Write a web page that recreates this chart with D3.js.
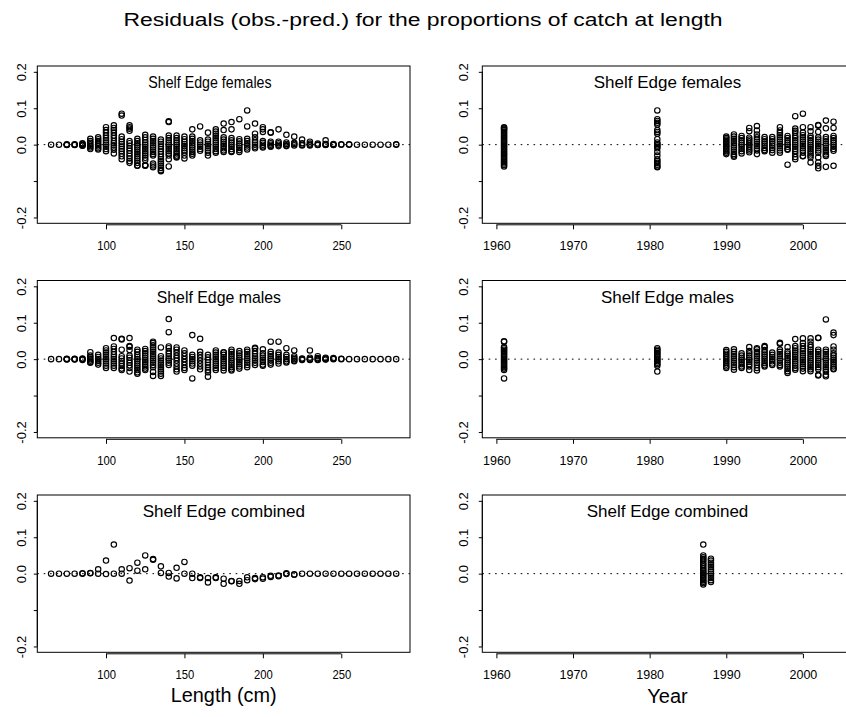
<!DOCTYPE html>
<html><head><meta charset="utf-8">
<script src="https://cdn.jsdelivr.net/npm/d3@7"></script>
<style>body{margin:0;background:#fff;overflow:hidden} svg{display:block} text{font-family:"Liberation Sans",Arial,Helvetica,sans-serif;fill:#000}</style>
</head><body>
<script>
// ---------------- DATA ----------------
const mainTitle = "Residuals (obs.-pred.) for the proportions of catch at length";
const panelTitles = ["Shelf Edge females", "Shelf Edge males", "Shelf Edge combined"];
const xLabels = ["Length (cm)", "Year"];
const lengthTicks = [100, 150, 200, 250];
const yearTicks = [1960, 1970, 1980, 1990, 2000];
const yTicks = [-0.2, -0.1, 0.0, 0.1, 0.2];
const yTickLabels = ["-0.2", "", "0.0", "0.1", "0.2"];

const lengthBins = [65,70,75,80,85,90,95,100,105,110,115,120,125,130,135,140,145,150,155,160,165,170,175,180,185,190,195,200,205,210,215,220,225,230,235,240,245,250,255,260,265,270,275,280,285];

const femByLength = [
 [0],[0],[0.001,0,-0.001],[0.001,0,-0.001],[0.004,0.002,0,-0.002,-0.003],
 [0.016,0.01,0.005,0,-0.004,-0.008,-0.012],
 [0.02,0.015,0.01,0.005,0,-0.005,-0.01,-0.013],
 [0.048,0.04,0.033,0.025,0.018,0.012,0.006,0,-0.006,-0.012,-0.018],
 [0.053,0.046,0.04,0.033,0.025,0.018,0.01,0.004,-0.002,-0.008,-0.014,-0.024],
 [0.085,0.08,0.022,0.015,0.008,0.002,-0.005,-0.012,-0.018,-0.025,-0.032,-0.04],
 [0.053,0.048,0.044,0.038,0.01,0.004,-0.003,-0.01,-0.017,-0.024,-0.031,-0.038,-0.045,-0.05],
 [0.016,0.01,0.004,-0.002,-0.008,-0.014,-0.02,-0.026,-0.032,-0.038,-0.044,-0.05,-0.057,-0.058],
 [0.027,0.02,0.013,0.006,0,-0.006,-0.012,-0.018,-0.024,-0.03,-0.036,-0.042,-0.056,-0.057,-0.058],
 [0.022,0.016,0.01,0.004,-0.002,-0.008,-0.014,-0.02,-0.026,-0.03,-0.052,-0.057,-0.062],
 [0.014,0.008,0.002,-0.005,-0.012,-0.019,-0.026,-0.033,-0.04,-0.046,-0.052,-0.058,-0.064,-0.07,-0.073],
 [0.064,0.062,0.025,0.018,0.012,0.006,0,-0.006,-0.012,-0.018,-0.024,-0.03,-0.04,-0.06],
 [0.025,0.018,0.012,0.006,0,-0.006,-0.012,-0.018,-0.024,-0.03,-0.033,-0.035],
 [0.022,0.015,0.008,0.002,-0.004,-0.01,-0.016,-0.022,-0.03,-0.038],
 [0.042,0.022,0.016,0.01,0.004,-0.002,-0.008,-0.014,-0.02,-0.025,-0.03],
 [0.05,0.012,0.006,0,-0.006,-0.012,-0.017],
 [0.033,0.014,0.008,0.002,-0.004,-0.01,-0.016,-0.022,-0.03],
 [0.042,0.036,0.03,0.024,0.018,0.012,0.006,0,-0.006,-0.012,-0.018,-0.022],
 [0.058,0.04,0.02,0.014,0.008,0.002,-0.004,-0.01,-0.016,-0.02],
 [0.062,0.042,0.018,0.012,0.006,0,-0.006,-0.012,-0.018,-0.02],
 [0.07,0.015,0.009,0.003,-0.003,-0.009,-0.015,-0.02],
 [0.094,0.05,0.016,0.01,0.004,-0.002,-0.008,-0.013],
 [0.058,0.03,0.02,0.012,0.006,0,-0.006,-0.01],
 [0.048,0.042,0.035,0.01,0.005,0,-0.005,-0.008],
 [0.034,0.033,0.008,0.004,0,-0.004,-0.006],
 [0.042,0.008,0.004,0,-0.004],
 [0.027,0.006,0.002,-0.002,-0.004],
 [0.022,0.005,0.002,-0.002],
 [0.014,0.004,0,-0.002],
 [0.008,0.003,0,-0.002],
 [0.003,0,-0.001],
 [0.012,0.002,0,-0.001],
 [0.002,0,-0.001],
 [0.001,0],[0.001,0],[0],[0],[0],[0],[0],[0.001,0]
];

const maleByLength = [
 [0],[0],[0.001,0,-0.001],[0.001,0,-0.001],[0.002,0,-0.002],
 [0.019,0.01,0.005,0,-0.004,-0.008,-0.01],
 [0.012,0.006,0,-0.005,-0.01,-0.015],
 [0.03,0.024,0.018,0.012,0.006,0,-0.006,-0.012,-0.018,-0.024],
 [0.058,0.035,0.028,0.02,0.013,0.006,0,-0.006,-0.012,-0.018,-0.024],
 [0.056,0.054,0.026,0.008,0.002,-0.005,-0.012,-0.019,-0.026,-0.03],
 [0.058,0.036,0.034,0.025,0.01,0.004,-0.003,-0.01,-0.017,-0.024,-0.034],
 [0.026,0.02,0.013,0.006,0,-0.006,-0.012,-0.018,-0.024,-0.03,-0.036,-0.04],
 [0.028,0.022,0.016,0.01,0.004,-0.002,-0.008,-0.014,-0.02,-0.026,-0.03],
 [0.048,0.044,0.038,0.032,0.026,0.02,0.014,0.008,0.002,-0.004,-0.01,-0.016,-0.022,-0.035,-0.046],
 [0.032,0.008,0.002,-0.004,-0.01,-0.016,-0.022,-0.028,-0.034,-0.04,-0.046],
 [0.11,0.074,0.035,0.03,0.022,0.015,0.008,0.002,-0.004,-0.01,-0.016],
 [0.032,0.026,0.018,0.01,0.003,-0.004,-0.012,-0.02,-0.028,-0.034],
 [0.024,0.016,0.008,0,-0.008,-0.016,-0.024,-0.03],
 [0.066,0.012,0.006,0,-0.006,-0.012,-0.018,-0.053],
 [0.056,0.02,0.012,0.004,-0.004,-0.012,-0.02,-0.028],
 [0.012,0.005,-0.002,-0.009,-0.016,-0.023,-0.03,-0.036,-0.048],
 [0.024,0.018,0.012,0.006,0,-0.006,-0.012,-0.018,-0.024,-0.03],
 [0.019,0.018,0.012,0.006,0,-0.006,-0.012,-0.018,-0.024,-0.031],
 [0.026,0.02,0.014,0.008,0.002,-0.004,-0.01,-0.016,-0.022,-0.028,-0.031],
 [0.022,0.016,0.01,0.004,-0.002,-0.008,-0.014,-0.02,-0.026],
 [0.026,0.02,0.014,0.008,0.002,-0.004,-0.01,-0.016,-0.022],
 [0.031,0.029,0.022,0.015,0.008,0.002,-0.004,-0.01,-0.016],
 [0.027,0.016,0.01,0.004,-0.002,-0.008,-0.015,-0.018],
 [0.048,0.02,0.014,0.008,0.002,-0.004,-0.01,-0.015],
 [0.048,0.018,0.012,0.006,0,-0.006,-0.012],
 [0.03,0.012,0.006,0,-0.006,-0.009],
 [0.024,0.008,0.004,0,-0.004,-0.006],
 [0.002,0,-0.002],
 [0.024,0.004,0,-0.002],
 [0.008,0.003,0,-0.002],
 [0.004,0.002,0,-0.001],
 [0.003,0.001,0],
 [0.001,0],[0],[0],[0],[0],[0],[0],[0]
];

const combByLength = [
 [0],[0],[0],[0],[0.001,0],[0.002,0.001],[0.012,0],[0.036,-0.001],[0.08,0],[0.012,0],
 [0.015,-0.019],[0.03,0.008],[0.05,0.012],[0.04,0.038],[0.02,0.002],[0.002,-0.008],
 [0.016,-0.013],[0.032,0],[0,-0.012],[-0.01,-0.012],[-0.012,-0.024],[-0.01,-0.012],
 [-0.014,-0.028],[-0.02,-0.021],[-0.02,-0.028],[-0.01,-0.018],[-0.012,-0.015],[-0.01,-0.014],
 [-0.006,-0.009],[-0.005,-0.007],[0.001,-0.001],[-0.002,-0.003],
 [0],[0],[0],[0],[0],[0],[0],[0],[0],[0],[0],[0],[0]
];

const sexYears = [1961,1981,1990,1991,1992,1993,1994,1995,1996,1997,1998,1999,2000,2001,2002,2003,2004];

const femByYear = [
 [0.048,0.046,0.043,0.04,0.036,0.032,0.028,0.024,0.02,0.016,0.012,0.008,0.004,0,-0.004,-0.008,-0.012,-0.016,-0.02,-0.024,-0.028,-0.032,-0.036,-0.04,-0.044,-0.048,-0.052,-0.056,-0.06],
 [0.094,0.07,0.065,0.06,0.055,0.04,0.035,0.03,0.015,0.006,0.002,-0.002,-0.006,-0.01,-0.02,-0.03,-0.04,-0.045,-0.05,-0.055,-0.06,-0.062],
 [0.022,0.018,0.014,0.01,0.006,0.002,-0.002,-0.006,-0.01,-0.014,-0.018,-0.022,-0.026],
 [0.028,0.022,0.016,0.01,0.004,-0.002,-0.008,-0.014,-0.02,-0.026,-0.03,-0.033],
 [0.024,0.018,0.012,0.006,0,-0.006,-0.012,-0.018,-0.024],
 [0.046,0.037,0.019,0.014,0.009,0.004,-0.001,-0.006,-0.011,-0.016,-0.021],
 [0.051,0.039,0.028,0.02,0.014,0.008,0.002,-0.004,-0.01,-0.016,-0.026],
 [0.021,0.015,0.009,0.003,-0.003,-0.009,-0.015,-0.018],
 [0.021,0.015,0.009,0.003,-0.003,-0.009,-0.015,-0.022],
 [0.048,0.039,0.032,0.026,0.02,0.014,0.008,0.002,-0.004,-0.01,-0.016,-0.022],
 [0.024,0.018,0.012,0.006,0,-0.006,-0.012,-0.014,-0.055],
 [0.078,0.044,0.038,0.033,0.024,0.018,0.012,0.006,0,-0.006,-0.012,-0.018,-0.026,-0.034,-0.04],
 [0.085,0.048,0.033,0.026,0.02,0.014,0.008,0.002,-0.004,-0.01,-0.016,-0.022,-0.031,-0.032],
 [0.048,0.037,0.024,0.018,0.012,0.006,0,-0.006,-0.012,-0.018,-0.024,-0.03,-0.035,-0.049],
 [0.054,0.052,0.035,0.02,0.014,0.008,0.002,-0.004,-0.01,-0.016,-0.022,-0.035,-0.049,-0.058,-0.065],
 [0.066,0.045,0.021,0.015,0.009,0.003,-0.003,-0.009,-0.015,-0.021,-0.027,-0.031,-0.061],
 [0.063,0.046,0.024,0.018,0.012,0.006,0,-0.006,-0.012,-0.017,-0.058]
];

const maleByYear = [
 [0.049,0.048,0.033,0.03,0.026,0.022,0.018,0.014,0.01,0.006,0.002,-0.002,-0.006,-0.01,-0.014,-0.018,-0.022,-0.026,-0.03,-0.053],
 [0.03,0.026,0.022,0.018,0.014,0.01,0.006,0.002,-0.002,-0.006,-0.01,-0.014,-0.018,-0.034],
 [0.025,0.02,0.015,0.01,0.005,0,-0.005,-0.01,-0.015,-0.02,-0.024],
 [0.027,0.02,0.014,0.008,0.002,-0.004,-0.01,-0.016,-0.022,-0.029],
 [0.016,0.01,0.004,-0.002,-0.008,-0.014,-0.02,-0.024],
 [0.033,0.022,0.016,0.01,0.004,-0.002,-0.008,-0.014,-0.02,-0.03],
 [0.03,0.027,0.02,0.014,0.008,0.002,-0.004,-0.01,-0.016,-0.024,-0.031],
 [0.036,0.033,0.025,0.019,0.013,0.007,0.001,-0.005,-0.011,-0.017,-0.02],
 [0.018,0.012,0.006,0,-0.006,-0.012,-0.016],
 [0.045,0.042,0.026,0.02,0.014,0.008,0.002,-0.004,-0.01,-0.016,-0.02],
 [0.033,0.021,0.015,0.009,0.003,-0.003,-0.009,-0.015,-0.021,-0.027,-0.033,-0.038],
 [0.055,0.036,0.03,0.024,0.018,0.012,0.006,0,-0.006,-0.012,-0.018,-0.024,-0.029],
 [0.057,0.044,0.036,0.028,0.022,0.016,0.01,0.004,-0.002,-0.008,-0.014,-0.02,-0.026,-0.033],
 [0.057,0.048,0.039,0.033,0.026,0.02,0.014,0.008,0.002,-0.004,-0.01,-0.016,-0.022,-0.028,-0.033],
 [0.059,0.058,0.026,0.02,0.014,0.008,0.002,-0.004,-0.01,-0.016,-0.022,-0.028,-0.043,-0.045],
 [0.109,0.026,0.02,0.014,0.008,0.002,-0.004,-0.01,-0.016,-0.022,-0.028,-0.034,-0.043,-0.047],
 [0.073,0.066,0.035,0.026,0.016,0.01,0.004,-0.002,-0.008,-0.014,-0.02,-0.026,-0.028]
];

const combYears = [1987, 1988];
const combByYear = [
 [0.08,0.05,0.045,0.04,0.036,0.03,0.025,0.02,0.015,0.01,0.006,0.002,-0.002,-0.006,-0.01,-0.014,-0.018,-0.022,-0.026,-0.03],
 [0.041,0.036,0.03,0.024,0.018,0.012,0.006,0,-0.006,-0.012,-0.018,-0.023]
];

// ---------------- LAYOUT ----------------
const W = 846, H = 717;
const rowTop = [66, 280.5, 495], PH = 157.3;
const cols = [
  {x0: 37.3, x1: 410, txs: 0.9, ylabOff: 11, domain: [56.2, 293.8], ticks: lengthTicks},
  {x0: 482.3, x1: 852.7, txs: 1, ylabOff: 14.7, domain: [1958.16, 2006.5], ticks: yearTicks}
];
// left-column panel titles: [start x, width]
const leftTitlePos = [[148.3, 123.3], [156.7, 124.3], [142.7, 162.3]];

const panels = [
  {row:0, col:0, xs: lengthBins, ys: femByLength},
  {row:0, col:1, xs: sexYears, ys: femByYear},
  {row:1, col:0, xs: lengthBins, ys: maleByLength},
  {row:1, col:1, xs: sexYears, ys: maleByYear},
  {row:2, col:0, xs: lengthBins, ys: combByLength},
  {row:2, col:1, xs: combYears, ys: combByYear}
];

const svg = d3.select("body").append("svg").attr("width", W).attr("height", H);

svg.append("text").attr("x", 423).attr("y", 26).attr("text-anchor", "middle")
  .attr("font-size", 17.5).attr("textLength", 599).attr("lengthAdjust", "spacingAndGlyphs")
  .text(mainTitle);

panels.forEach(p => {
  const c = cols[p.col];
  const top = rowTop[p.row], bot = top + PH;
  const x = d3.scaleLinear().domain(c.domain).range([c.x0, c.x1]);
  const y = d3.scaleLinear().domain([-0.216, 0.216]).range([bot, top]);
  const g = svg.append("g");

  // zero reference line (dotted)
  g.append("line").attr("x1", c.x0).attr("x2", c.x1).attr("y1", y(0)).attr("y2", y(0))
    .attr("stroke", "#000").attr("stroke-width", 1).attr("stroke-dasharray", "1.6,4.8");

  // points
  const pts = p.xs.flatMap((xv, i) => p.ys[i].map(v => ({x: xv, v})));
  g.selectAll("circle.pt").data(pts).enter().append("circle").attr("class", "pt")
    .attr("cx", d => x(d.x)).attr("cy", d => y(d.v)).attr("r", 2.7)
    .attr("fill", "none").attr("stroke", "#000").attr("stroke-width", 1.15);

  // box
  g.append("rect").attr("x", c.x0).attr("y", top).attr("width", c.x1 - c.x0).attr("height", PH)
    .attr("fill", "none").attr("stroke", "#000").attr("stroke-width", 1);

  // y axis
  const ya = g.append("g").attr("transform", `translate(${c.x0},0)`)
    .call(d3.axisLeft(y).tickValues(yTicks).tickSize(3.5).tickFormat((d, i) => yTickLabels[i]));
  ya.select(".domain").attr("d", `M0,${y(-0.2)}V${y(0.2)}`);
  ya.selectAll(".tick line").attr("stroke-width", 1);
  ya.selectAll(".tick text")
    .attr("x", null).attr("dy", null).attr("text-anchor", "middle")
    .attr("font-size", 13).attr("font-family", null)
    .attr("transform", `translate(${-c.ylabOff},0) rotate(-90)`);

  // x axis
  const xa = g.append("g").attr("transform", `translate(0,${bot + 1.5})`)
    .call(d3.axisBottom(x).tickValues(c.ticks).tickSize(4.5).tickFormat(d3.format("d")));
  xa.select(".domain").attr("d", `M${x(c.ticks[0])},0H${x(c.ticks[c.ticks.length - 1])}`);
  xa.selectAll(".tick text")
    .attr("y", null).attr("dy", null).attr("font-size", 12.5).attr("font-family", null)
    .attr("transform", `translate(0,25.3) scale(${c.txs},1)`);

  // panel title
  const t = g.append("text").attr("y", top + 22).attr("font-size", 17).text(panelTitles[p.row]);
  if (p.col === 0) {
    const [sx0, w] = leftTitlePos[p.row];
    t.attr("x", sx0).attr("text-anchor", "start").attr("textLength", w).attr("lengthAdjust", "spacingAndGlyphs");
  } else {
    t.attr("x", (c.x0 + c.x1) / 2).attr("text-anchor", "middle");
  }
});

// axis titles
svg.append("text").attr("x", 223.7).attr("y", 701.5).attr("text-anchor", "middle").attr("font-size", 20)
  .attr("textLength", 106).attr("lengthAdjust", "spacingAndGlyphs").text(xLabels[0]);
svg.append("text").attr("x", 667.5).attr("y", 703).attr("text-anchor", "middle").attr("font-size", 20)
  .text(xLabels[1]);
</script>
</body></html>
